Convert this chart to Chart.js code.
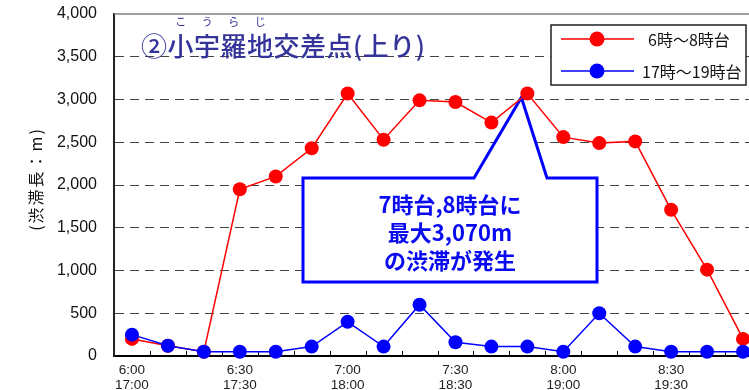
<!DOCTYPE html>
<html lang="ja">
<head>
<meta charset="utf-8">
<script src="https://cdn.jsdelivr.net/npm/chart.js@4.4.1/dist/chart.umd.min.js"></script>
<style>
  html, body { margin: 0; padding: 0; background: #fff; overflow: hidden; }
  #wrap { width: 749px; height: 390px; overflow: hidden; }
  canvas { display: block; }
</style>
</head>
<body>
<div id="wrap"><canvas id="myChart" width="770" height="390"></canvas></div>
<script>
// 10-minute slots, morning and evening share one category each
const morningTimes = ['6:00','6:10','6:20','6:30','6:40','6:50','7:00','7:10','7:20','7:30','7:40','7:50','8:00','8:10','8:20','8:30','8:40','8:50'];
const eveningTimes = ['17:00','17:10','17:20','17:30','17:40','17:50','18:00','18:10','18:20','18:30','18:40','18:50','19:00','19:10','19:20','19:30','19:40','19:50'];

// queue length (m)
const morningQueue = [200, 120, 50, 1950, 2100, 2430, 3070, 2530, 2990, 2970, 2730, 3070, 2560, 2490, 2510, 1710, 1010, 200];
const eveningQueue = [250, 120, 50, 50, 50, 110, 400, 110, 600, 160, 110, 110, 50, 500, 110, 50, 50, 50];

const seriesNames = ['6時～8時台', '17時～19時台'];
const seriesColors = ['#ff0000', '#0000ff'];

const titleText = '②小宇羅地交差点(上り)';
const rubyText = ['こ', 'う', 'ら', 'じ'];   // reading over 小宇羅地
const calloutLines = ['7時台,8時台に', '最大3,070m', 'の渋滞が発生'];
const yTitle = '(渋滞長：m)';

const yTicks = { min: 0, max: 4000, step: 500 };

const labels = morningTimes.map((t, i) => [t, eveningTimes[i]]);

const latin = "'Liberation Sans', Arial, 'Noto Sans CJK JP', sans-serif";
const jp = "'Noto Sans CJK JP', 'Liberation Sans', sans-serif";

const extras = {
  id: 'extras',
  beforeDatasetsDraw(chart) {
    const ctx = chart.ctx;
    const area = chart.chartArea;
    const xs = chart.scales.x, ys = chart.scales.y;
    ctx.save();
    // solid top frame
    ctx.strokeStyle = '#808080';
    ctx.lineWidth = 1.5;
    ctx.beginPath();
    ctx.moveTo(area.left, area.top);
    ctx.lineTo(area.right, area.top);
    ctx.stroke();
    // small inward ticks between categories
    ctx.strokeStyle = '#000';
    ctx.lineWidth = 1;
    for (let i = 0; i < labels.length - 1; i++) {
      const x = Math.round((xs.getPixelForValue(i) + xs.getPixelForValue(i + 1)) / 2) + 0.5;
      ctx.beginPath();
      ctx.moveTo(x, area.bottom);
      ctx.lineTo(x, area.bottom - 5);
      ctx.stroke();
    }
    // callout box pointing at the peak
    const peak = Math.max(...morningQueue);
    const peakIdx = morningQueue.lastIndexOf(peak);
    const tipX = xs.getPixelForValue(peakIdx) - 6;
    const tipY = ys.getPixelForValue(peak) + 4;
    const bx1 = 303, bx2 = 597, by1 = 178, by2 = 282;
    ctx.beginPath();
    ctx.moveTo(bx1, by1);
    ctx.lineTo(474, by1);
    ctx.lineTo(tipX, tipY);
    ctx.lineTo(547, by1);
    ctx.lineTo(bx2, by1);
    ctx.lineTo(bx2, by2);
    ctx.lineTo(bx1, by2);
    ctx.closePath();
    ctx.fillStyle = '#fff';
    ctx.fill();
    ctx.strokeStyle = '#0000ff';
    ctx.lineWidth = 3;
    ctx.lineJoin = 'miter';
    ctx.stroke();
    ctx.fillStyle = '#0a0af0';
    ctx.font = 'bold 22px ' + jp;
    ctx.textAlign = 'center';
    ctx.textBaseline = 'middle';
    calloutLines.forEach((line, i) => ctx.fillText(line, (bx1 + bx2) / 2, 205 + i * 28));
    ctx.restore();
  },
  afterDraw(chart) {
    const ctx = chart.ctx;
    ctx.save();
    // title with reading above
    const tx = 141, ty = 46;
    ctx.fillStyle = '#34349a';
    ctx.font = '500 26px ' + jp;
    ctx.letterSpacing = '0.5px';
    ctx.textAlign = 'left';
    ctx.textBaseline = 'middle';
    ctx.fillText(titleText, tx, ty);
    const centers = rubyText.map((_, k) => {
      const pre = ctx.measureText(titleText.slice(0, k + 1)).width;
      const w = ctx.measureText(titleText[k + 1]).width;
      return tx + pre + w / 2;
    });
    ctx.letterSpacing = '0px';
    ctx.font = '11px ' + jp;
    ctx.textAlign = 'center';
    rubyText.forEach((r, k) => ctx.fillText(r, centers[k], 22));

    // vertical axis caption
    ctx.save();
    ctx.translate(36, 180);
    ctx.rotate(-Math.PI / 2);
    ctx.fillStyle = '#111';
    ctx.font = '16px ' + jp;
    ctx.letterSpacing = '2px';
    ctx.textAlign = 'center';
    ctx.textBaseline = 'middle';
    ctx.fillText(yTitle, 1, 0);
    ctx.restore();

    // legend
    const lx = 551, ly = 25, lw = 195, lh = 60;
    ctx.fillStyle = '#fff';
    ctx.fillRect(lx, ly, lw, lh);
    ctx.strokeStyle = '#222';
    ctx.lineWidth = 1.5;
    ctx.strokeRect(lx, ly, lw, lh);
    const rows = [39, 71];
    const textX = [648, 642];
    seriesNames.forEach((name, i) => {
      ctx.strokeStyle = seriesColors[i];
      ctx.lineWidth = 1.5;
      ctx.beginPath();
      ctx.moveTo(561, rows[i]);
      ctx.lineTo(634, rows[i]);
      ctx.stroke();
      ctx.fillStyle = seriesColors[i];
      ctx.beginPath();
      ctx.arc(597, rows[i], 7.5, 0, Math.PI * 2);
      ctx.fill();
      ctx.fillStyle = '#111';
      ctx.font = '16px ' + jp;
      ctx.textAlign = 'left';
      ctx.textBaseline = 'middle';
      ctx.fillText(name, textX[i], rows[i] + 1);
    });
    ctx.restore();
  }
};

const ctx = document.getElementById('myChart').getContext('2d');
const mychart = new Chart(ctx, {
  type: 'line',
  data: {
    labels: labels,
    datasets: [
      {
        label: seriesNames[0],
        data: morningQueue,
        borderColor: seriesColors[0],
        backgroundColor: seriesColors[0],
        borderWidth: 1.5,
        pointRadius: 7,
        pointBorderWidth: 0,
        tension: 0,
        clip: false,
        order: 1
      },
      {
        label: seriesNames[1],
        data: eveningQueue,
        borderColor: seriesColors[1],
        backgroundColor: seriesColors[1],
        borderWidth: 1.5,
        pointRadius: 7,
        pointBorderWidth: 0,
        tension: 0,
        clip: false,
        order: 0
      }
    ]
  },
  options: {
    responsive: false,
    animation: false,
    devicePixelRatio: 1,
    layout: { padding: { top: 14, right: 9, left: 0, bottom: 0 } },
    plugins: {
      legend: { display: false },
      tooltip: { enabled: false }
    },
    scales: {
      x: {
        type: 'category',
        offset: true,
        grid: { display: false, drawTicks: false },
        border: { display: true, color: '#000', width: 2 },
        ticks: {
          autoSkip: false,
          maxRotation: 0,
          padding: 6,
          color: '#222',
          font: { family: latin, size: 13.5, lineHeight: 1.16 },
          callback: function (value, index) {
            return index % 3 === 0 ? this.getLabelForValue(value) : '';
          }
        },
        afterFit: (scale) => {
          scale.height = 34;
          scale.paddingLeft = 0;
          scale.paddingRight = 0;
        }
      },
      y: {
        min: yTicks.min,
        max: yTicks.max,
        grid: {
          drawTicks: false,
          color: (c) => (c.tick && (c.tick.value === yTicks.min || c.tick.value === yTicks.max)) ? 'rgba(0,0,0,0)' : '#444',
          lineWidth: 1
        },
        border: { display: true, color: '#222', width: 2, dash: [9, 6] },
        ticks: {
          stepSize: yTicks.step,
          padding: 17,
          color: '#111',
          font: { family: latin, size: 16 },
          callback: (v) => v.toLocaleString('en-US')
        },
        afterFit: (scale) => {
          scale.width = 114;
          scale.paddingTop = 0;
          scale.paddingBottom = 0;
        }
      }
    }
  },
  plugins: [extras]
});
</script>
</body>
</html>
